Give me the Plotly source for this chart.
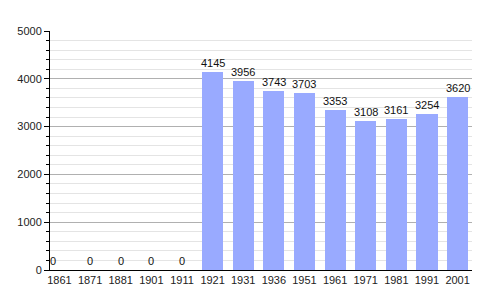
import plotly.graph_objects as go

years = ["1861", "1871", "1881", "1901", "1911", "1921", "1931", "1936",
         "1951", "1961", "1971", "1981", "1991", "2001"]
population = [0, 0, 0, 0, 0, 4145, 3956, 3743, 3703, 3353, 3108, 3161, 3254, 3620]

idx = list(range(len(years)))

fig = go.Figure()
fig.add_trace(go.Bar(
    x=idx, y=population, width=0.69,
    marker=dict(color="#99aaff", line=dict(width=0)),
    hoverinfo="skip",
))

for i, v in zip(idx, population):
    fig.add_annotation(x=i, y=v, text=str(v), showarrow=False,
                       yanchor="bottom", yshift=1,
                       xshift=-6 if i == 0 else 0,
                       font=dict(family="Liberation Sans, Arial", size=11, color="#111"))

fig.update_layout(
    width=500, height=300,
    margin=dict(l=50, r=28, t=31, b=30),
    plot_bgcolor="white", paper_bgcolor="white",
    showlegend=False,
    font=dict(family="Liberation Sans, Arial", size=11, color="#222"),
    xaxis=dict(
        range=[-0.31, 13.47], tickmode="array", tickvals=idx, ticktext=years,
        showgrid=False, showline=True, linecolor="black", linewidth=1,
        ticks="", zeroline=False, tickfont=dict(size=11),
    ),
    yaxis=dict(
        range=[0, 5000], dtick=1000, showgrid=True, gridcolor="#b0b0b0",
        showline=True, linecolor="black", linewidth=1,
        ticks="outside", ticklen=5, tickcolor="black", zeroline=False,
        tickfont=dict(size=11),
        minor=dict(dtick=200, showgrid=True, gridcolor="#e4e4e4",
                   ticks="outside", ticklen=3, tickcolor="black"),
    ),
    bargap=0,
)

fig.write_html("out.html")
